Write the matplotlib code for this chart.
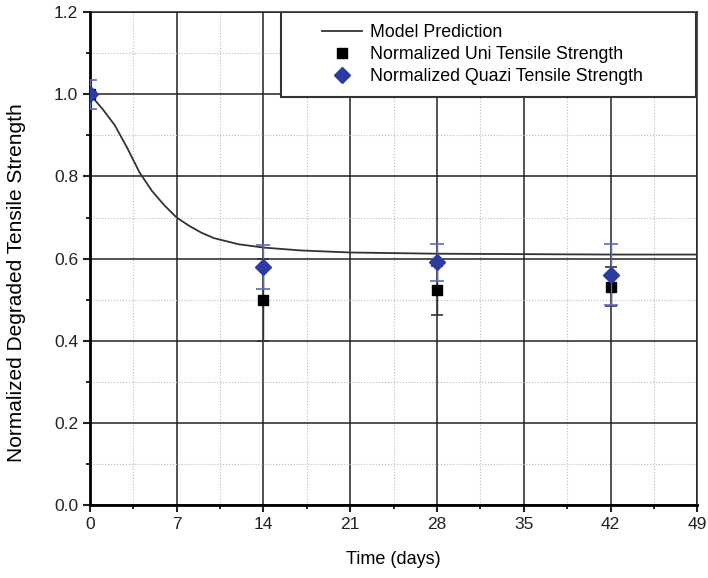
import matplotlib
matplotlib.use("Agg")
import matplotlib.pyplot as plt
from matplotlib.ticker import MultipleLocator, FormatStrFormatter
from matplotlib.lines import Line2D
from matplotlib.patches import Rectangle

plt.rcParams['font.family'] = ['Liberation Sans', 'DejaVu Sans']

model_t = [0, 1, 2, 3, 4, 5, 6, 7, 8, 9, 10, 12, 14, 17, 21, 28, 35, 42, 49]
model_v = [1.0, 0.965, 0.925, 0.87, 0.81, 0.765, 0.73, 0.70, 0.68, 0.663, 0.65,
           0.635, 0.627, 0.62, 0.615, 0.612, 0.611, 0.61, 0.61]

days = [0, 14, 28, 42]
uni_v = [1.0, 0.50, 0.523, 0.532]
uni_err = [0.0, 0.10, 0.06, 0.047]
quazi_v = [1.0, 0.58, 0.591, 0.561]
quazi_err = [0.035, 0.053, 0.045, 0.075]

labels = ['Model Prediction', 'Normalized Uni Tensile Strength',
          'Normalized Quazi Tensile Strength']

blue = '#2b3ba0'

fig = plt.figure(figsize=(7.08, 5.78), dpi=100)
ax = fig.add_axes([0.127, 0.126, 0.858, 0.853])

ax.plot(model_t, model_v, color='#333333', lw=1.3, zorder=3)
ax.errorbar(days, uni_v, yerr=uni_err, fmt='s', color='black', ms=7,
            ecolor='#333333', elinewidth=1.0, capsize=4, capthick=1.2, zorder=4)
ax.errorbar(days, quazi_v, yerr=quazi_err, fmt='D', color=blue, ms=8,
            ecolor='#5a68c8', elinewidth=1.0, capsize=5, capthick=1.2, zorder=5)

ax.set_xlim(0, 49)
ax.set_ylim(0, 1.2)
ax.xaxis.set_major_locator(MultipleLocator(7))
ax.xaxis.set_minor_locator(MultipleLocator(3.5))
ax.yaxis.set_major_locator(MultipleLocator(0.2))
ax.yaxis.set_minor_locator(MultipleLocator(0.1))
ax.yaxis.set_major_formatter(FormatStrFormatter('%.1f'))

ax.grid(which='major', color='#222222', lw=1.1)
ax.grid(which='minor', color='#bbbbbb', lw=0.8, linestyle=':')
ax.set_axisbelow(True)

ax.tick_params(which='major', direction='out', length=5, width=1.5, labelsize=12.5,
               top=False, right=False, colors='#222222')
ax.tick_params(which='minor', direction='out', length=3, width=1.2,
               top=False, right=False)
for s in ['left', 'bottom']:
    ax.spines[s].set_linewidth(2.0)
for s in ['top', 'right']:
    ax.spines[s].set_linewidth(1.1)
    ax.spines[s].set_color('#222222')

ax.set_xlabel('Time (days)', fontsize=13, labelpad=14)
ax.set_ylabel('Normalized Degraded Tensile Strength', fontsize=15)
ax.yaxis.set_label_coords(-0.105, 0.452)

# legend box
box = Rectangle((0.315, 0.828), 0.682, 0.172, transform=ax.transAxes,
                facecolor='white', edgecolor='#333333', lw=1.5, zorder=9)
ax.add_patch(box)

handles = [Line2D([], [], color='#333333', lw=1.3),
           Line2D([], [], marker='s', color='black', ls='none', ms=7),
           Line2D([], [], marker='D', color=blue, ls='none', ms=8)]
leg = ax.legend(handles, labels, loc='upper left', bbox_to_anchor=(0.382, 0.975),
                fontsize=12.8, frameon=False, borderpad=0, borderaxespad=0,
                handletextpad=0.45, labelspacing=0.28, handlelength=2.25,
                numpoints=1)
leg.set_zorder(10)

fig.savefig('out.png', dpi=100)
